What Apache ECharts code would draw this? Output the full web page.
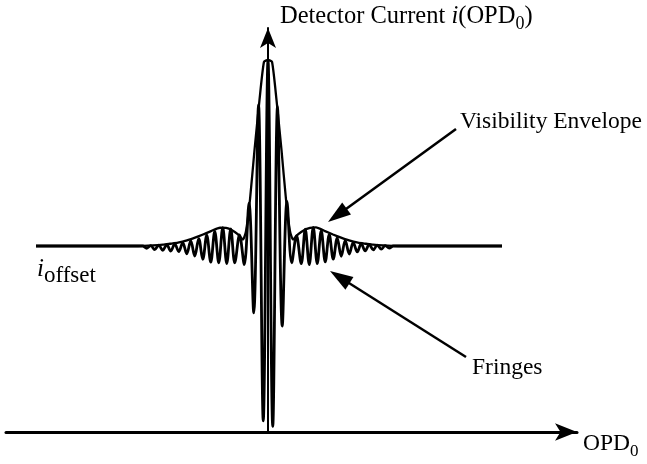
<!DOCTYPE html>
<html>
<head>
<meta charset="utf-8">
<script src="https://cdn.jsdelivr.net/npm/echarts@6/dist/echarts.min.js"></script>
<style>
  html, body { margin: 0; padding: 0; background: #fff; }
  #chart { width: 647px; height: 464px; }
</style>
</head>
<body>
<div id="chart"></div>
<script>
// White-light interferogram: detector current vs. optical path difference.
// Current is expressed in units of the offset level (i_offset = 1).
const fringeOpd = [
  -232, -129.25,
  -125.25, -121.25, -117.25, -113.25, -109.25, -105.25, -101.25, -97.25,
  -93.25, -89.25, -85.25, -81.25, -77.25, -73.25, -69.25, -65.25,
  -61.25, -57.25, -53.25, -49.25, -45.25, -41.25, -37.25, -33.25,
  -28.5, -23.75, -19, -14.25, -9.5, -4.75,
  0,
  4.75, 9.5, 14.25, 19, 23.75, 28.5,
  33.25, 37.25, 41.25, 45.25, 49.25, 53.25, 57.25, 61.25,
  65.25, 69.25, 73.25, 77.25, 81.25, 85.25, 89.25, 93.25,
  97.25, 101.25, 105.25, 109.25, 113.25, 117.25, 121.25, 125.25,
  129.25, 234
];
const fringeCurrent = [
  1.000, 1.000,
  1.000, 0.988, 1.002, 0.981, 1.004, 0.977, 1.007, 0.973,
  1.011, 0.970, 1.018, 0.958, 1.027, 0.946, 1.040, 0.928,
  1.058, 0.913, 1.078, 0.910, 1.098, 0.906, 1.092, 0.910,
  1.060, 0.900, 1.230, 0.640, 1.760, 0.060,
  2.000,
  0.030, 1.750, 0.570, 1.240, 0.910, 1.055,
  0.905, 1.090, 0.900, 1.100, 0.905, 1.082, 0.915, 1.062,
  0.930, 1.044, 0.945, 1.030, 0.957, 1.020, 0.968, 1.012,
  0.974, 1.008, 0.979, 1.005, 0.983, 1.002, 0.989, 1.000,
  1.000, 1.000
];
const envelopeOpd = [
  -232, -130, -115, -105, -98, -90, -81, -73, -65, -57, -48, -42, -36, -30, -25,
  -22, -18, -13.5, -8.5, -4, 0, 4, 8.5, 13.5, 18, 22,
  25, 30, 36, 42, 48, 57, 65, 73, 81, 90, 98, 105, 115, 130, 234
];
const envelopeCurrent = [
  1.000, 1.000, 1.003, 1.007, 1.012, 1.018, 1.030, 1.045, 1.062, 1.080, 1.098, 1.097, 1.085, 1.062, 1.035,
  1.080, 1.250, 1.516, 1.785, 1.990, 2.000, 1.990, 1.785, 1.516, 1.250, 1.080,
  1.035, 1.062, 1.085, 1.097, 1.100, 1.080, 1.062, 1.045, 1.030, 1.018, 1.012, 1.007, 1.003, 1.000, 1.000
];

// Text annotations
const yTitle = ['Detector Current ', 'i', '(OPD', '0', ')'];
const xTitle = ['OPD', '0'];
const offsetLabel = ['i', 'offset'];
const envelopeLabel = 'Visibility Envelope';
const fringeLabel = 'Fringes';

const SERIF = '"Liberation Serif", "Times New Roman", serif';
const ctx = document.createElement('canvas').getContext('2d');
function fontOf(p) { return (p.italic ? 'italic ' : '') + p.size + 'px ' + SERIF; }
function textWidth(p) { ctx.font = fontOf(p); return ctx.measureText(p.text).width; }

// Lay out a run of text pieces on a common baseline (dy shifts subscripts down)
function textRun(pieces, x, baseline) {
  const out = [];
  let cx = x;
  pieces.forEach(p => {
    out.push({
      type: 'text', silent: true,
      style: {
        text: p.text, x: cx, y: baseline + (p.dy || 0) - 0.84 * p.size,
        font: fontOf(p), fill: '#000',
        textAlign: 'left', textVerticalAlign: 'top'
      }
    });
    cx += textWidth(p);
  });
  return out;
}

// Straight arrow with a filled head at (x2, y2)
function arrow(x1, y1, x2, y2, len, half) {
  const dx = x2 - x1, dy = y2 - y1, d = Math.hypot(dx, dy);
  const ux = dx / d, uy = dy / d;
  const bx = x2 - ux * len, by = y2 - uy * len;
  return [
    { type: 'line', silent: true,
      shape: { x1: x1, y1: y1, x2: bx + ux * 2, y2: by + uy * 2 },
      style: { stroke: '#000', lineWidth: 2.5 } },
    { type: 'polygon', silent: true,
      shape: { points: [[x2, y2], [bx - uy * half, by + ux * half], [bx + uy * half, by - ux * half]] },
      style: { fill: '#000' } }
  ];
}

const chart = echarts.init(document.getElementById('chart'), null, { renderer: 'canvas' });

const graphics = [].concat(
  textRun([
    { text: yTitle[0], size: 24.5 },
    { text: yTitle[1], size: 24.5, italic: true },
    { text: yTitle[2], size: 24.5 },
    { text: yTitle[3], size: 18, dy: 5 },
    { text: yTitle[4], size: 24.5 }
  ], 280, 25),
  textRun([{ text: envelopeLabel, size: 23.5 }], 460, 130),
  textRun([{ text: fringeLabel, size: 23.5 }], 472, 376),
  textRun([
    { text: xTitle[0], size: 23.5 },
    { text: xTitle[1], size: 17, dy: 5 }
  ], 583, 452),
  textRun([
    { text: offsetLabel[0], size: 25, italic: true },
    { text: offsetLabel[1], size: 23, dy: 6 }
  ], 37, 278),
  arrow(456, 129, 328, 222, 23, 7.5),
  arrow(466, 357, 330, 271, 23, 7.5)
);

chart.setOption({
  animation: false,
  backgroundColor: '#fff',
  grid: { left: 6, right: 70, top: 28, bottom: 32 },
  xAxis: {
    type: 'value', min: -262, max: 309,
    axisLine: { onZero: true, symbol: ['none', 'arrow'], symbolSize: [13, 22],
      lineStyle: { color: '#000', width: 3 } },
    axisTick: { show: false }, axisLabel: { show: false }, splitLine: { show: false }
  },
  yAxis: {
    type: 'value', min: 0, max: 2.172,
    axisLine: { onZero: true, symbol: ['none', 'arrow'], symbolSize: [12, 20],
      lineStyle: { color: '#000', width: 2 } },
    axisTick: { show: false }, axisLabel: { show: false }, splitLine: { show: false }
  },
  series: [
    {
      name: 'Fringes', type: 'line', showSymbol: false, z: 3, smooth: 0.35,
      data: fringeOpd.map((x, i) => [x, fringeCurrent[i]]),
      lineStyle: { color: '#000', width: 2.8 }
    },
    {
      name: 'Visibility Envelope', type: 'line', showSymbol: false, z: 4, smooth: 0.2,
      data: envelopeOpd.map((x, i) => [x, envelopeCurrent[i]]),
      lineStyle: { color: '#000', width: 2.3 }
    }
  ],
  graphic: graphics
});
</script>
</body>
</html>
